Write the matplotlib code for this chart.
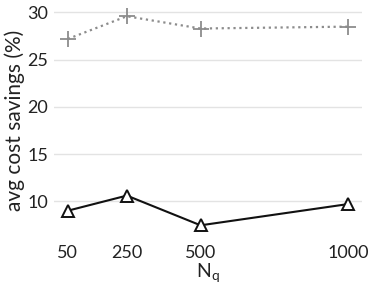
import matplotlib
matplotlib.use("Agg")
import matplotlib.pyplot as plt

plt.rcParams['font.family'] = ['Lato', 'DejaVu Sans']
plt.rcParams['mathtext.fontset'] = 'custom'
plt.rcParams['mathtext.rm'] = 'Lato'

nq = [50, 250, 500, 1000]
savings_plus = [27.2, 29.6, 28.3, 28.5]
savings_tri = [9.0, 10.6, 7.45, 9.7]
yticks = [10, 15, 20, 25, 30]

fig = plt.figure(figsize=(3.74, 2.9), dpi=100)
ax = fig.add_axes([0.144, 0.187, 0.824, 0.793])

ax.plot(nq, savings_plus, color='#8c8c8c', linestyle=':', linewidth=1.6,
        marker='+', markersize=11, markeredgewidth=1.3)
ax.plot(nq, savings_tri, color='#111111', linestyle='-', linewidth=1.5,
        marker='^', markersize=9, markerfacecolor='white', markeredgewidth=1.4)

ax.set_xticks(nq)
ax.set_xticklabels([str(v) for v in nq])
ax.set_yticks(yticks)
ax.yaxis.grid(True, color='#e3e3e3', linewidth=1)
ax.set_axisbelow(True)
for s in ax.spines.values():
    s.set_visible(False)
ax.tick_params(length=0, labelsize=13, colors='#222222')
ax.tick_params(axis='y', pad=4)
ax.tick_params(axis='x', pad=7)
ax.set_ylabel('avg cost savings (%)', fontsize=15, color='#222222', labelpad=2)
ax.set_xlabel(r'N$_\mathrm{q}$', fontsize=14, color='#222222', labelpad=0)

fig.savefig('out.png', dpi=100)
